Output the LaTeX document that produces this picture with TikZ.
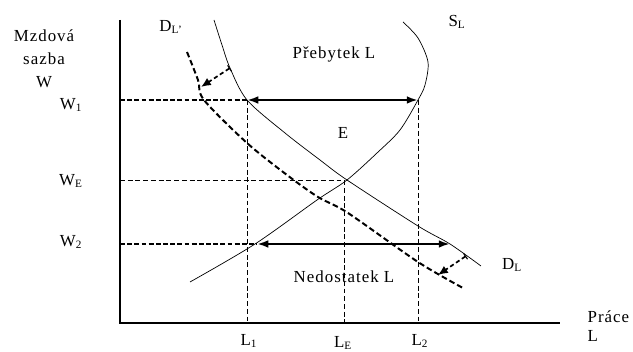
\documentclass[tikz,border=0pt]{standalone}
\usepackage{fontspec}
\setmainfont{Liberation Serif}[LetterSpace=6]
\usetikzlibrary{arrows.meta}

\begin{document}
\begin{tikzpicture}[
    x=0.025cm,
    y=-0.025cm,
    font=\fontsize{12}{14}\selectfont,
    axis/.style={
        draw,
        line width=0.9pt
    },
    curve/.style={
        draw,
        line width=0.5pt
    },
    shifted/.style={
        draw,
        line width=1.4pt,
        dash pattern=on 4pt off 2.2pt
    },
    guide/.style={
        draw,
        line width=0.5pt,
        dash pattern=on 3.5pt off 2pt
    },
    guidebold/.style={
        draw,
        line width=1.3pt,
        dash pattern=on 3.5pt off 1.6pt
    },
    gap/.style={
        draw,
        line width=1.6pt,
        {Latex[length=8pt,width=5.5pt]}-{Latex[length=8pt,width=5.5pt]}
    },
    shiftarrow/.style={
        draw,
        line width=1.2pt,
        dash pattern=on 3pt off 2pt,
        {Bar[width=5pt,line width=0.8pt]}-{Latex[length=7pt,width=6pt]}
    },
    lbl/.style={
        inner sep=1pt
    }
]
    \useasboundingbox (0,0) rectangle (633,352);

    % points
    \coordinate (O) at (120,323);
    \coordinate (ytop) at (120,20);
    \coordinate (xend) at (560,323);
    \coordinate (w1) at (120,100);
    \coordinate (wE) at (120,180);
    \coordinate (w2) at (120,244);
    \coordinate (A1) at (247,100);
    \coordinate (B1) at (418,100);
    \coordinate (E) at (344,180);
    \coordinate (A2) at (257,244);
    \coordinate (B2) at (450,244);
    \coordinate (l1) at (247,323);
    \coordinate (lE) at (344,323);
    \coordinate (l2) at (418,323);
    \coordinate (d0) at (230,68);
    \coordinate (d1) at (201,87);
    \coordinate (e0) at (466,256);
    \coordinate (e1) at (438,275);

    % guides
    \path[guidebold] (w1) -- (A1);
    \path[guidebold] (w2) -- (A2);
    \path[guide] (wE) -- (E) -- (lE);
    \path[guide] (A1) -- (l1);
    \path[guide] (B1) -- (l2);

    % axes
    \path[axis] (ytop) -- (O) -- (xend);

    % curves
    \path[curve] plot[smooth] coordinates {(403,22) (418,38) (428,62) (425,85)
        (418,100) (400,130) (377,153) (347,180) (317,200) (255,244) (190,282)};
    \path[curve] plot[smooth] coordinates {(214,20) (222,45) (230,68) (247,100)
        (285,133) (320,160) (347,180) (418,226) (450,244) (481,266)};
    \path[shifted] plot[smooth] coordinates {(187,52) (198,80) (204,100) (247,143)
        (287,175) (318,197) (348,213) (418,262) (463,288)};

    % arrows
    \path[gap] (A1) -- (B1);
    \path[gap] (A2) -- (B2);
    \path[shiftarrow] (d0) -- (d1);
    \path[shiftarrow] (e0) -- (e1);

    % labels
    \node[lbl,align=center,font=\fontsize{12}{16.4}\selectfont] (wage) at (44,59) {Mzdová\\sazba\\W};
    \node[lbl] (lw1) at (71,105) {W\textsubscript{1}};
    \node[lbl] (lwE) at (71,181) {W\textsubscript{E}};
    \node[lbl] (lw2) at (71,242) {W\textsubscript{2}};
    \node[lbl] (ll1) at (249,341) {L\textsubscript{1}};
    \node[lbl] (llE) at (343,343) {L\textsubscript{E}};
    \node[lbl] (ll2) at (420,341) {L\textsubscript{2}};
    \node[lbl,align=left,anchor=west] (labour) at (586,326) {Práce\\L};
    \node[lbl] (dl) at (512,265) {D\textsubscript{L}};
    \node[lbl] (dl2) at (171,27) {D\textsubscript{L'}};
    \node[lbl] (sl) at (457,22) {S\textsubscript{L}};
    \node[lbl] (eq) at (343,133) {E};
    \node[lbl] (surplus) at (334,54) {Přebytek L};
    \node[lbl] (shortage) at (344,277) {Nedostatek L};
\end{tikzpicture}
\end{document}
